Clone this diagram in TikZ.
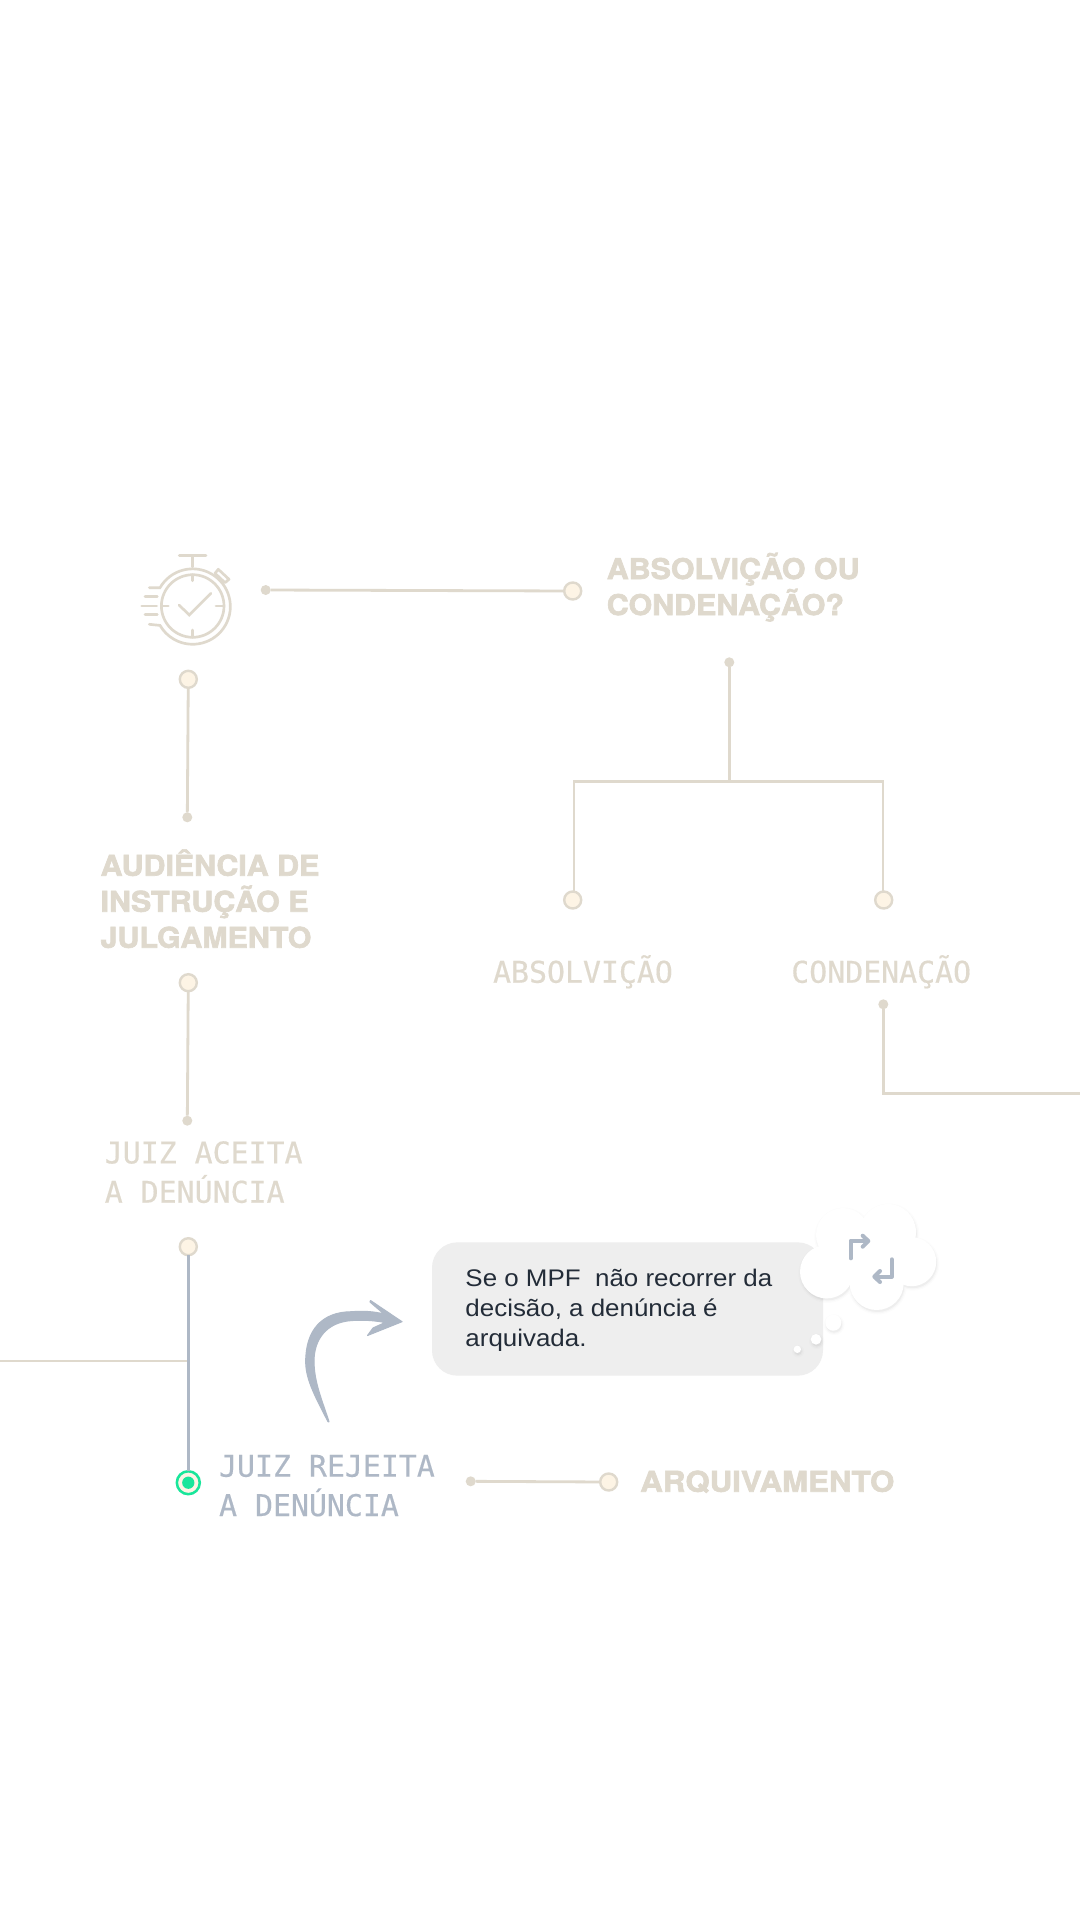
\documentclass[tikz,border=0pt]{standalone}
\usepackage{fontspec}
\setmainfont[FakeStretch=1.08]{Liberation Sans}
\newfontfamily\headfont[FakeStretch=1.065,FakeBold=2.2]{TeX Gyre Heros}
\newfontfamily\headwide[FakeStretch=1.095,FakeBold=2.2]{TeX Gyre Heros}
\newfontfamily\monofont[FakeBold=0.4]{DejaVu Sans Mono}
\definecolor{linec}{HTML}{DFD9CD}
\definecolor{ringc}{HTML}{FDF4E5}
\definecolor{bluec}{HTML}{AEB8C6}
\definecolor{greenc}{HTML}{19E69B}
\definecolor{inkc}{HTML}{232C38}
\definecolor{bubblec}{HTML}{EEEEEE}
\tikzset{
  x=0.75pt,y=-0.75pt,
  link/.style={draw=linec,line width=2.1pt},
  linkblue/.style={draw=bluec,line width=2.1pt},
  ring/.style={circle,draw=linec,fill=ringc,line width=1.8pt,minimum size=12.75pt,inner sep=0pt,outer sep=0pt},
  dot/.style={circle,fill=linec,minimum size=7.5pt,inner sep=0pt,outer sep=0pt},
  heading/.style={anchor=base west,align=left,inner sep=0pt,text=linec,font=\headfont\bfseries\fontsize{21.4}{27}\selectfont},
  mono/.style={anchor=base west,align=left,inner sep=0pt,text=linec,font=\monofont\fontsize{22.4}{29.5}\selectfont},
  watch/.style={draw=linec,line width=2pt,line cap=round},
  swap/.style={draw=bluec,line width=3pt,line cap=round,line join=round}
}
\newcommand{\cloudlobes}{826.7/1271.7/26.7,843/1235/27,888/1232/28,911.7/1261.7/24.5,876.7/1283/27,865/1258/25,833.3/1322.7/8,816/1339.3/5.3,797.3/1349.3/3.7}
\begin{document}
\begin{tikzpicture}
  \useasboundingbox (0,0) rectangle (1080,1920);
  \fill[white] (0,0) rectangle (1080,1920);

  % Stopwatch
  \draw[watch] (179.3,555.7) -- (206,555.7);
  \draw[watch] (192.7,555.7) -- (192.7,567);
  \draw[watch] (192.7,606) circle[radius=31.3];
  \draw[watch] (149.3,587.7) -- (160,587.7) arc[start angle=210,end angle=510,radius=37.7] -- (149.3,624.3);
  \draw[watch,line join=round] (215,573.3) -- (218.3,569.3) -- (229,579.3) -- (225,582.7) -- cycle;
  \foreach \ya/\xa/\xb in {596.7/145/157.3,606/141.7/156.7,614.7/145/157.3}
    \draw[watch] (\xa,\ya) -- (\xb,\ya);
  \draw[watch] (192.7,574.7) -- (192.7,580.7);
  \draw[watch] (192.7,630) -- (192.7,637.3);
  \draw[watch] (216,606) -- (224,606);
  \draw[watch] (161.4,606) -- (168.3,606);
  \draw[watch] (179,605) -- (189.3,615) -- (211,593.3);

  % Top row
  \node[dot] at (265.7,590) (dotTop){};
  \node[ring] at (572.7,591) (ringTop){};
  \draw[link] (dotTop) -- (ringTop);
  \node[heading] at (606.5,615) (headVerdict){ABSOLVIÇÃO OU\\CONDENAÇÃO?};

  % Fork
  \node[dot] at (729.3,662.3) (dotFork){};
  \coordinate (forkM) at (729.3,781.3);
  \coordinate (forkL) at (574,781.3);
  \coordinate (forkR) at (883,781.3);
  \node[ring] at (572.7,900) (ringAbs){};
  \node[ring] at (883.7,900) (ringCond){};
  \draw[link] (dotFork) -- (forkM);
  \draw[link,line cap=rect] (forkL |- ringAbs.north) -- (forkL) -- (forkR) -- (forkR |- ringCond.north);
  \node[mono] at (492.8,982.7) (textAbs){ABSOLVIÇÃO};
  \node[mono] at (791,982.7) (textCond){CONDENAÇÃO};

  % Exit to the right
  \node[dot] at (883.3,1004.3) (dotCond){};
  \coordinate (condCorner) at (883.3,1093.3);
  \coordinate (condEnd) at (1080,1093.3);
  \draw[link] (dotCond) -- (condCorner) -- (condEnd);

  % Left column
  \node[ring] at (188.3,679.3) (ringWatch){};
  \node[dot] at (187.3,817.3) (dotWatch){};
  \draw[link] (ringWatch) -- (dotWatch);
  \node[heading] at (100.3,947.7) (headAudit){AUDIÊNCIA DE\\INSTRUÇÃO E\\JULGAMENTO};
  \node[ring] at (188.3,982.7) (ringAudit){};
  \node[dot] at (187.3,1120.7) (dotAudit){};
  \draw[link] (ringAudit) -- (dotAudit);
  \node[mono] at (104.5,1202.7) (textAccept){JUIZ ACEITA\\A DENÚNCIA};
  \node[ring] at (188.3,1246.7) (ringAccept){};

  % Rejected path
  \node[circle,draw=greenc,fill=ringc,line width=1.9pt,minimum size=17.2pt,inner sep=0pt,outer sep=0pt] at (188.3,1482.7) (ringReject){};
  \node[circle,fill=greenc,minimum size=9.2pt,inner sep=0pt] at (188.3,1482.7) (dotReject){};
  \coordinate (leftEnd) at (0,1361);
  \coordinate (leftJoin) at (187,1361);
  \draw[link] (leftEnd) -- (leftJoin);
  \draw[linkblue] (ringAccept) -- (ringReject);
  \node[mono,text=bluec] at (218.8,1516) (textReject){JUIZ REJEITA\\A DENÚNCIA};
  \node[dot] at (470.7,1481.3) (dotArch){};
  \node[ring] at (608.7,1482) (ringArch){};
  \draw[link] (dotArch) -- (ringArch);
  \node[heading] at (640,1491.7) (headArch){\headwide\bfseries ARQUIVAMENTO};

  % Hand drawn arrow
  \path[fill=bluec,draw=bluec,line width=0.8pt,line join=round]
    (328,1421.7) .. controls (316,1398) and (305.7,1380) .. (305.7,1361.7)
    .. controls (305.7,1330) and (322,1311.7) .. (352,1311.7)
    .. controls (365,1310.5) and (376,1312) .. (384,1314)
    -- (370,1302) -- (370.5,1300.5) -- (402,1321.7) -- (367.5,1335.5) -- (373,1328) -- (385,1322.5)
    .. controls (372,1320) and (362,1320) .. (352,1320.5)
    .. controls (326,1322) and (314,1340) .. (314,1361)
    .. controls (314,1382) and (322,1400) .. (329,1421.7) -- cycle;

  % Speech box
  \node[fill=bubblec,rounded corners=19pt,minimum width=293.25pt,minimum height=100pt,inner sep=0pt,outer sep=0pt] at (627.5,1309) (noteBox){};
  \node[anchor=base west,align=left,inner sep=0pt,text=inkc,font=\fontsize{18}{22.5}\selectfont] at (465.2,1346.7) (noteText){Se o MPF\ \ não recorrer da\\decisão, a denúncia é\\arquivada.};

  % Cloud
  \foreach \g/\o in {2.5/.012,1.2/.02,0/.035}{
    \begin{scope}[transparency group,opacity=\o]
      \foreach \cx/\cy/\cr in \cloudlobes
        \fill[black] (\cx+0.8,\cy+2) circle[radius=\cr+\g];
    \end{scope}
  }
  \foreach \cx/\cy/\cr in \cloudlobes
    \fill[white] (\cx,\cy) circle[radius=\cr];
  \draw[swap] (850.7,1258.3) -- (850.7,1240.7) -- (867,1240.7);
  \draw[swap] (862.7,1235.7) -- (868.3,1241) -- (862.7,1246.7);
  \draw[swap] (891.7,1259.3) -- (891.7,1276.7) -- (875,1276.7);
  \draw[swap] (880,1271) -- (874.3,1276.7) -- (880,1282);
\end{tikzpicture}
\end{document}
